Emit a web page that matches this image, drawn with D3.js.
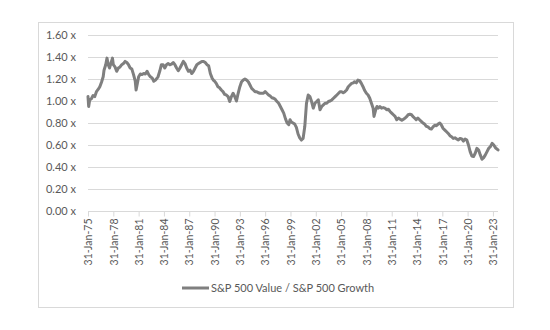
<!DOCTYPE html>
<html>
<head>
<meta charset="utf-8">
<script src="https://cdn.jsdelivr.net/npm/d3@7"></script>
<style>
  html, body { margin: 0; padding: 0; background: #fff; }
  svg { display: block; }
  text { font-family: Lato, "Open Sans", sans-serif; fill: #595959; }
</style>
</head>
<body>
<svg id="chart" width="550" height="330"></svg>
<script>
// Decimal years of each reading (end-of-month series)
const years = [
  1975.0, 1975.08, 1975.2, 1975.4, 1975.6, 1975.8, 1976.0, 1976.2, 1976.4, 1976.6, 1976.8, 1976.9,
  1977.1, 1977.25, 1977.4, 1977.55, 1977.7, 1977.9, 1978.0, 1978.2, 1978.4, 1978.6, 1978.8,
  1979.0, 1979.2, 1979.4, 1979.6, 1979.8, 1980.0, 1980.2, 1980.4, 1980.6, 1980.7, 1980.85,
  1981.0, 1981.2, 1981.4, 1981.6, 1981.8, 1982.0, 1982.2, 1982.4, 1982.6, 1982.8,
  1983.0, 1983.3, 1983.5, 1983.7, 1983.9, 1984.1, 1984.3, 1984.5, 1984.7, 1984.9,
  1985.1, 1985.3, 1985.5, 1985.7, 1985.9, 1986.1, 1986.3, 1986.5, 1986.7, 1986.9,
  1987.1, 1987.3, 1987.5, 1987.7, 1987.9, 1988.1, 1988.3, 1988.5, 1988.7, 1988.9,
  1989.1, 1989.3, 1989.5, 1989.7, 1989.85, 1990.0, 1990.2, 1990.4, 1990.6, 1990.8,
  1991.0, 1991.2, 1991.4, 1991.6, 1991.8, 1992.0, 1992.2, 1992.4, 1992.6, 1992.8,
  1993.0, 1993.2, 1993.4, 1993.6, 1993.8, 1994.0, 1994.2, 1994.4, 1994.6, 1994.8,
  1995.0, 1995.2, 1995.4, 1995.6, 1995.8, 1996.0, 1996.2, 1996.4, 1996.6, 1996.8,
  1997.0, 1997.2, 1997.4, 1997.6, 1997.8, 1998.0, 1998.2, 1998.4, 1998.6, 1998.8,
  1998.95, 1999.1, 1999.3, 1999.5, 1999.7, 1999.9, 2000.1, 2000.3, 2000.5, 2000.7, 2000.9,
  2001.1, 2001.3, 2001.5, 2001.7, 2001.9, 2002.1, 2002.3, 2002.5, 2002.7, 2002.9,
  2003.1, 2003.3, 2003.5, 2003.7, 2003.9, 2004.1, 2004.3, 2004.5, 2004.7, 2004.9,
  2005.05, 2005.25, 2005.45, 2005.65, 2005.85, 2006.05, 2006.25, 2006.45, 2006.6, 2006.8,
  2007.0, 2007.2, 2007.4, 2007.6, 2007.8, 2008.0, 2008.2, 2008.4, 2008.6, 2008.8,
  2008.9, 2009.1, 2009.25, 2009.4, 2009.6, 2009.8, 2010.0, 2010.2, 2010.4, 2010.6, 2010.8,
  2011.0, 2011.2, 2011.4, 2011.6, 2011.8, 2012.0, 2012.2, 2012.4, 2012.6, 2012.8,
  2012.95, 2013.15, 2013.35, 2013.5, 2013.7, 2013.9, 2014.1, 2014.3, 2014.5, 2014.7, 2014.9,
  2015.1, 2015.3, 2015.5, 2015.7, 2015.9, 2016.1, 2016.3, 2016.5, 2016.7, 2016.9,
  2017.1, 2017.3, 2017.5, 2017.7, 2017.9, 2018.1, 2018.3, 2018.5, 2018.7, 2018.9,
  2019.1, 2019.3, 2019.5, 2019.7, 2019.9, 2020.1, 2020.3, 2020.5, 2020.7, 2020.9,
  2021.1, 2021.3, 2021.5, 2021.7, 2021.9, 2022.1, 2022.3, 2022.5, 2022.7, 2022.9,
  2023.1, 2023.3, 2023.45, 2023.6
];

// S&P 500 Value / S&P 500 Growth ratio
const ratio = [
  1.04, 0.95, 1.01, 1.02, 1.05, 1.04, 1.085, 1.105, 1.13, 1.17, 1.22, 1.28,
  1.33, 1.39, 1.33, 1.30, 1.34, 1.39, 1.33, 1.31, 1.27, 1.30, 1.31,
  1.33, 1.34, 1.36, 1.35, 1.33, 1.30, 1.29, 1.24, 1.18, 1.10, 1.16,
  1.22, 1.245, 1.24, 1.25, 1.245, 1.27, 1.24, 1.22, 1.21, 1.18,
  1.19, 1.22, 1.27, 1.33, 1.33, 1.30, 1.33, 1.34, 1.33, 1.335,
  1.35, 1.33, 1.30, 1.275, 1.30, 1.33, 1.36, 1.34, 1.30, 1.27,
  1.28, 1.25, 1.27, 1.30, 1.33, 1.34, 1.35, 1.36, 1.36, 1.35,
  1.33, 1.32, 1.25, 1.21, 1.19, 1.18, 1.16, 1.13, 1.12, 1.10,
  1.085, 1.06, 1.055, 1.04, 0.995, 1.04, 1.07, 1.04, 1.00, 1.07,
  1.13, 1.175, 1.19, 1.20, 1.19, 1.175, 1.145, 1.115, 1.10, 1.085,
  1.085, 1.075, 1.07, 1.07, 1.07, 1.085, 1.07, 1.055, 1.045, 1.03,
  1.025, 1.015, 0.995, 0.98, 0.95, 0.92, 0.89, 0.84, 0.80, 0.785,
  0.83, 0.81, 0.80, 0.79, 0.76, 0.70, 0.665, 0.645, 0.66, 0.77, 0.98,
  1.055, 1.04, 0.995, 0.935, 0.98, 0.995, 1.01, 0.92, 0.95, 0.965,
  0.98, 0.98, 0.995, 1.00, 1.01, 1.025, 1.04, 1.055, 1.07, 1.085,
  1.085, 1.075, 1.085, 1.10, 1.13, 1.145, 1.16, 1.165, 1.175, 1.165,
  1.19, 1.185, 1.16, 1.13, 1.095, 1.07, 1.055, 1.025, 0.98, 0.935,
  0.86, 0.92, 0.95, 0.935, 0.95, 0.935, 0.94, 0.935, 0.92, 0.925, 0.905,
  0.89, 0.875, 0.86, 0.83, 0.845, 0.835, 0.825, 0.835, 0.845, 0.86,
  0.875, 0.88, 0.875, 0.86, 0.845, 0.83, 0.845, 0.83, 0.815, 0.80, 0.79,
  0.77, 0.765, 0.75, 0.745, 0.765, 0.78, 0.775, 0.79, 0.80, 0.78,
  0.75, 0.735, 0.72, 0.705, 0.685, 0.675, 0.66, 0.665, 0.655, 0.645,
  0.66, 0.655, 0.635, 0.655, 0.645, 0.60, 0.54, 0.50, 0.495, 0.525,
  0.57, 0.555, 0.51, 0.47, 0.485, 0.51, 0.54, 0.57, 0.585, 0.615,
  0.60, 0.575, 0.565, 0.555
];

const yTicks = [0, 0.2, 0.4, 0.6, 0.8, 1.0, 1.2, 1.4, 1.6];
const xTickYears = [1975, 1978, 1981, 1984, 1987, 1990, 1993, 1996, 1999, 2002, 2005, 2008, 2011, 2014, 2017, 2020, 2023];
const seriesName = "S&P 500 Value / S&P 500 Growth";

function dateOf(t) {
  const yr = Math.floor(t);
  return new Date(Date.UTC(yr, 0, 31) + (t - yr) * 365.25 * 864e5);
}

const data = years.map((t, i) => ({ date: dateOf(t), value: ratio[i] }));

const svg = d3.select("#chart");
const grid = "#d9d9d9";

// outer chart border
svg.append("rect")
  .attr("x", 38.5).attr("y", 22.5).attr("width", 475).attr("height", 285)
  .attr("fill", "#fff").attr("stroke", grid).attr("stroke-width", 1);

const pLeft = 88, pRight = 498, pTop = 35, pBottom = 211;

const x = d3.scaleUtc()
  .domain([dateOf(1975), dateOf(2023.6)])
  .range([pLeft, pRight]);
const y = d3.scaleLinear().domain([0, 1.6]).range([pBottom, pTop]);

// horizontal gridlines
svg.append("g")
  .selectAll("line")
  .data(yTicks.filter(v => v > 0))
  .join("line")
  .attr("x1", pLeft).attr("x2", pRight)
  .attr("y1", d => Math.round(y(d)) + 0.5).attr("y2", d => Math.round(y(d)) + 0.5)
  .attr("stroke", grid).attr("stroke-width", 1);

// y axis labels
const yAxis = d3.axisLeft(y).tickValues(yTicks)
  .tickFormat(d => d3.format(".2f")(d) + " x")
  .tickSize(0).tickPadding(12);
const gy = svg.append("g").attr("transform", `translate(${pLeft},0)`).call(yAxis);
gy.select(".domain").remove();
gy.selectAll("text").style("font-size", "11px").attr("fill", "#595959")
  .style("font-family", "Lato, 'Open Sans', sans-serif");

// x axis
const xAxis = d3.axisBottom(x)
  .tickValues(xTickYears.map(dateOf))
  .tickFormat(d3.utcFormat("%d-%b-%y"))
  .tickSize(5).tickPadding(4);
const gx = svg.append("g").attr("transform", `translate(0,${pBottom + 0.5})`).call(xAxis);
gx.select(".domain").attr("stroke", grid).attr("d", `M${pLeft},0H${pRight}`);
gx.selectAll(".tick line").attr("stroke", grid);
gx.selectAll("text")
  .style("font-size", "10.5px")
  .style("font-family", "Lato, 'Open Sans', sans-serif")
  .attr("fill", "#595959")
  .attr("text-anchor", "end")
  .attr("transform", "rotate(-90)")
  .attr("x", -7).attr("y", 0).attr("dy", "0.35em");

// series line
const line = d3.line().x(d => x(d.date)).y(d => y(d.value));
svg.append("path")
  .datum(data)
  .attr("d", line)
  .attr("fill", "none")
  .attr("stroke", "#7f7f7f")
  .attr("stroke-width", 3)
  .attr("stroke-linejoin", "round")
  .attr("stroke-linecap", "round");

// legend
const lg = svg.append("g").attr("transform", "translate(182,288)");
lg.append("line").attr("x1", 0).attr("x2", 27).attr("y1", 0).attr("y2", 0)
  .attr("stroke", "#7f7f7f").attr("stroke-width", 3);
lg.append("text").attr("x", 29).attr("y", 0).attr("dy", "0.35em")
  .style("font-size", "11px").text(seriesName);
</script>
</body>
</html>
